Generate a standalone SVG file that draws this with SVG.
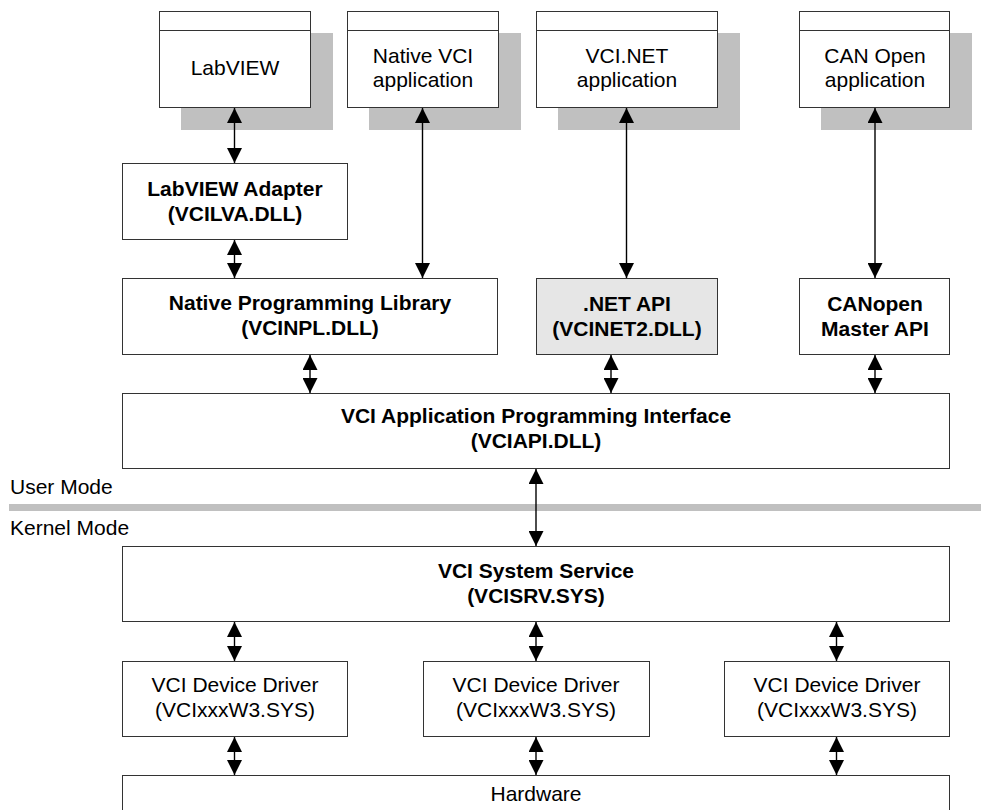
<svg xmlns="http://www.w3.org/2000/svg" width="981" height="810" viewBox="0 0 981 810">
  <style>
    .box { fill: #ffffff; stroke: #333333; stroke-width: 1; }
    .api { fill: #e6e6e6; stroke: #333333; stroke-width: 1; }
    .shadow { fill: #c0c0c0; }
    .hdr { stroke: #333333; stroke-width: 1; }
    text { font-family: "Liberation Sans", Arial, sans-serif; font-size: 21px; fill: #000000; text-anchor: middle; }
    .b { font-weight: bold; }
    .mode { text-anchor: start; }
    .link { stroke: #000000; stroke-width: 1.4; fill: none; marker-start: url(#head); marker-end: url(#head); }
  </style>
  <defs>
    <marker id="head" viewBox="0 0 15 15" refX="15" refY="7.5" markerWidth="15" markerHeight="15" markerUnits="userSpaceOnUse" orient="auto-start-reverse">
      <path d="M0,0 L15,7.5 L0,15 z" fill="#000000"/>
    </marker>
  </defs>

  <rect id="mode-separator" x="9" y="504" width="972" height="7" fill="#c0c0c0"/>
  <text class="mode" x="10" y="494">User Mode</text>
  <text class="mode" x="10" y="535">Kernel Mode</text>

  <!-- application windows with drop shadows -->
  <g id="app-labview">
    <rect class="shadow" x="181" y="33" width="152" height="97"/>
    <rect class="box" x="159.5" y="11.5" width="151" height="96"/>
    <line class="hdr" x1="159.5" y1="30.5" x2="310.5" y2="30.5"/>
    <text x="235" y="75">LabVIEW</text>
  </g>
  <g id="app-native">
    <rect class="shadow" x="369" y="33" width="152" height="97"/>
    <rect class="box" x="347.5" y="11.5" width="151" height="96"/>
    <line class="hdr" x1="347.5" y1="30.5" x2="498.5" y2="30.5"/>
    <text x="423" y="63">Native VCI</text>
    <text x="423" y="87">application</text>
  </g>
  <g id="app-vcinet">
    <rect class="shadow" x="558" y="33" width="182" height="97"/>
    <rect class="box" x="536.5" y="11.5" width="181" height="96"/>
    <line class="hdr" x1="536.5" y1="30.5" x2="717.5" y2="30.5"/>
    <text x="627" y="63">VCI.NET</text>
    <text x="627" y="87">application</text>
  </g>
  <g id="app-canopen">
    <rect class="shadow" x="821" y="33" width="151" height="97"/>
    <rect class="box" x="799.5" y="11.5" width="150" height="96"/>
    <line class="hdr" x1="799.5" y1="30.5" x2="949.5" y2="30.5"/>
    <text x="875" y="63">CAN Open</text>
    <text x="875" y="87">application</text>
  </g>

  <!-- user-mode libraries -->
  <g id="labview-adapter">
    <rect class="box" x="122.5" y="163.5" width="225" height="76"/>
    <text class="b" x="235" y="196">LabVIEW Adapter</text>
    <text class="b" x="235" y="221">(VCILVA.DLL)</text>
  </g>
  <g id="native-library">
    <rect class="box" x="122.5" y="278.5" width="375" height="76"/>
    <text class="b" x="310" y="310">Native Programming Library</text>
    <text class="b" x="310" y="335">(VCINPL.DLL)</text>
  </g>
  <g id="dotnet-api">
    <rect class="api" x="536.5" y="278.5" width="181" height="76"/>
    <text class="b" x="627" y="311">.NET API</text>
    <text class="b" x="627" y="336">(VCINET2.DLL)</text>
  </g>
  <g id="canopen-api">
    <rect class="box" x="799.5" y="278.5" width="150" height="76"/>
    <text class="b" x="875" y="311">CANopen</text>
    <text class="b" x="875" y="336">Master API</text>
  </g>
  <g id="vci-api">
    <rect class="box" x="122.5" y="393.5" width="827" height="75"/>
    <text class="b" x="536" y="423">VCI Application Programming Interface</text>
    <text class="b" x="536" y="448">(VCIAPI.DLL)</text>
  </g>

  <!-- kernel-mode components -->
  <g id="system-service">
    <rect class="box" x="122.5" y="546.5" width="827" height="75"/>
    <text class="b" x="536" y="578">VCI System Service</text>
    <text class="b" x="536" y="603">(VCISRV.SYS)</text>
  </g>
  <g id="driver-1">
    <rect class="box" x="122.5" y="661.5" width="225" height="75"/>
    <text x="235" y="692">VCI Device Driver</text>
    <text x="235" y="717">(VCIxxxW3.SYS)</text>
  </g>
  <g id="driver-2">
    <rect class="box" x="423.5" y="661.5" width="226" height="75"/>
    <text x="536" y="692">VCI Device Driver</text>
    <text x="536" y="717">(VCIxxxW3.SYS)</text>
  </g>
  <g id="driver-3">
    <rect class="box" x="724.5" y="661.5" width="225" height="75"/>
    <text x="837" y="692">VCI Device Driver</text>
    <text x="837" y="717">(VCIxxxW3.SYS)</text>
  </g>
  <g id="hardware">
    <rect class="box" x="122.5" y="775.5" width="827" height="45"/>
    <text x="536" y="801">Hardware</text>
  </g>

  <!-- bidirectional links -->
  <g id="connectors">
    <line class="link" x1="234.5" y1="108" x2="234.5" y2="163"/>
    <line class="link" x1="422.5" y1="108" x2="422.5" y2="278"/>
    <line class="link" x1="626.5" y1="108" x2="626.5" y2="278"/>
    <line class="link" x1="875" y1="108" x2="875" y2="278"/>
    <line class="link" x1="234.5" y1="240" x2="234.5" y2="278"/>
    <line class="link" x1="310" y1="355" x2="310" y2="393"/>
    <line class="link" x1="611" y1="355" x2="611" y2="393"/>
    <line class="link" x1="875" y1="355" x2="875" y2="393"/>
    <line class="link" x1="536" y1="469" x2="536" y2="546"/>
    <line class="link" x1="234.5" y1="622" x2="234.5" y2="661"/>
    <line class="link" x1="536" y1="622" x2="536" y2="661"/>
    <line class="link" x1="836.5" y1="622" x2="836.5" y2="661"/>
    <line class="link" x1="234.5" y1="737" x2="234.5" y2="775"/>
    <line class="link" x1="536" y1="737" x2="536" y2="775"/>
    <line class="link" x1="836.5" y1="737" x2="836.5" y2="775"/>
  </g>
</svg>
